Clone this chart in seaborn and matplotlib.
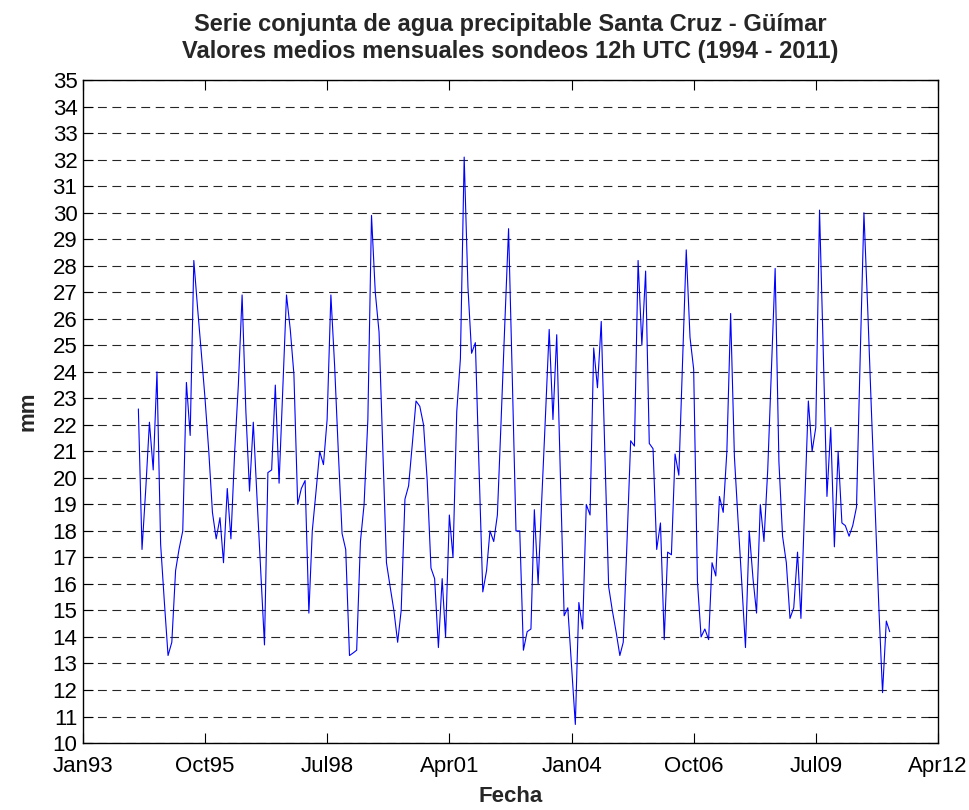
import pandas as pd
import seaborn as sns
import matplotlib.pyplot as plt

# -----------------------------------------------------------------------------
# Data: monthly mean precipitable water (mm), 12h UTC soundings
# -----------------------------------------------------------------------------
start_month = "1994-04-01"
pw_mm = [
    22.6, 17.3, 19.6, 22.1, 20.3, 24.0, 17.5, 15.3, 13.3, 13.8, 16.5, 17.3,
    18.0, 23.6, 21.6, 28.2, 26.4, 24.7, 23.0, 21.0, 18.7, 17.7, 18.5, 16.8,
    19.6, 17.7, 21.0, 23.5, 26.9, 22.5, 19.5, 22.1, 19.3, 16.5, 13.7, 20.2,
    20.3, 23.5, 19.8, 23.3, 26.9, 25.6, 23.9, 19.0, 19.6, 19.9, 14.9, 18.0,
    19.5, 21.0, 20.5, 22.2, 26.9, 24.2, 21.0, 17.9, 17.3, 13.3, 13.4, 13.5,
    17.6, 19.0, 22.2, 29.9, 27.0, 25.5, 21.2, 16.8, 15.9, 15.0, 13.8, 15.0,
    19.2, 19.7, 21.3, 22.9, 22.7, 22.0, 19.9, 16.6, 16.2, 13.6, 16.2, 14.0,
    18.6, 17.0, 22.5, 24.5, 32.1, 27.2, 24.7, 25.1, 20.4, 15.7, 16.5, 18.0,
    17.6, 18.6, 22.2, 25.8, 29.4, 23.7, 18.0, 18.0, 13.5, 14.2, 14.3, 18.8,
    16.0, 19.2, 22.4, 25.6, 22.2, 25.4, 20.1, 14.8, 15.1, 12.9, 10.7, 15.3,
    14.3, 19.0, 18.6, 24.9, 23.4, 25.9, 20.9, 15.9, 15.0, 14.2, 13.3, 13.8,
    17.6, 21.4, 21.2, 28.2, 25.0, 27.8, 21.3, 21.1, 17.3, 18.3, 13.9, 17.2,
    17.1, 20.9, 20.1, 24.3, 28.6, 25.3, 24.1, 16.1, 14.0, 14.3, 13.9, 16.8,
    16.3, 19.3, 18.7, 21.0, 26.2, 20.8, 18.4, 16.0, 13.6, 18.0, 16.2, 14.9,
    19.0, 17.6, 20.3, 24.0, 27.9, 20.6, 17.8, 16.8, 14.7, 15.1, 17.2, 14.7,
    19.0, 22.9, 21.0, 21.9, 30.1, 24.7, 19.3, 21.9, 17.4, 21.0, 18.3, 18.2,
    17.8, 18.2, 18.9, 24.5, 30.0, 26.4, 22.6, 18.9, 15.2, 11.9, 14.6, 14.2,
]

tick_dates = ["1993-01-01", "1995-10-01", "1998-07-01", "2001-04-01",
              "2004-01-01", "2006-10-01", "2009-07-01", "2012-04-01"]
tick_labels = ["Jan93", "Oct95", "Jul98", "Apr01", "Jan04", "Oct06", "Jul09", "Apr12"]
y_ticks = list(range(10, 36))

df = pd.DataFrame({"fecha": pd.date_range(start_month, periods=len(pw_mm), freq="MS"),
                   "mm": pw_mm})

# -----------------------------------------------------------------------------
# Plot
# -----------------------------------------------------------------------------
sns.set_style("white")
plt.rcParams["font.family"] = ["Liberation Sans", "DejaVu Sans"]

fig = plt.figure(figsize=(9.7, 8.1), dpi=100)
ax = fig.add_axes([0.0856, 0.0827, 0.8814, 0.8183])

sns.lineplot(x="fecha", y="mm", data=df, color="#0000ff", linewidth=0.8, ax=ax)

ax.set_xlim(pd.Timestamp(tick_dates[0]), pd.Timestamp(tick_dates[-1]))
ax.set_ylim(10, 35)
ax.set_xticks([pd.Timestamp(d) for d in tick_dates])
ax.set_xticklabels(tick_labels)
ax.set_yticks(y_ticks)

ax.yaxis.grid(True, color="0.15", linestyle=(0, (8, 5)), linewidth=0.8)
ax.xaxis.grid(False)
for side in ["top", "bottom", "left", "right"]:
    ax.spines[side].set_color("black")
    ax.spines[side].set_linewidth(1.0)
ax.tick_params(direction="in", length=7, width=0.8, labelsize=16,
               top=True, right=True, bottom=True, left=True, colors="black")
ax.tick_params(axis="x", pad=9)
ax.tick_params(axis="y", pad=4)

ax.set_xlabel("Fecha", fontsize=16, fontweight="bold", labelpad=7)
ax.set_ylabel("mm", fontsize=16, fontweight="bold", labelpad=10)
ax.set_title("Serie conjunta de agua precipitable Santa Cruz - Güímar\n"
             "Valores medios mensuales sondeos 12h UTC (1994 - 2011)",
             fontsize=17, fontweight="bold", pad=16, linespacing=1.2)

plt.savefig("out.png", dpi=100, facecolor="white")
